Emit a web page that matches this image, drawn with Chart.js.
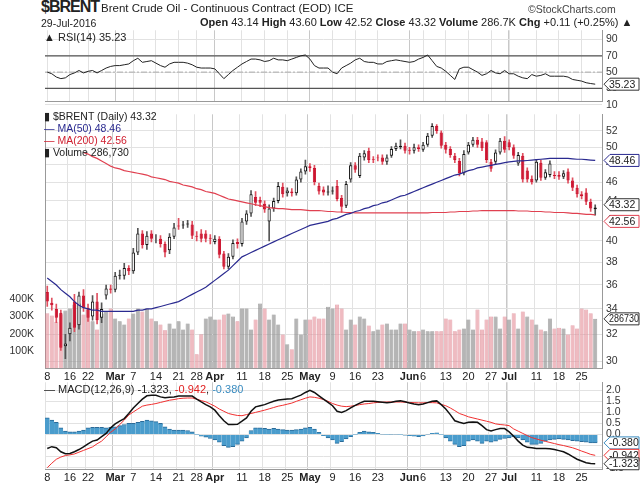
<!DOCTYPE html>
<html>
<head>
<meta charset="utf-8">
<script src="https://cdn.jsdelivr.net/npm/chart.js@4.4.0/dist/chart.umd.min.js"></script>
<style>
  body { margin: 0; background: #fff; font-family: "Liberation Sans", Arial, sans-serif; }
  #wrap { position: relative; width: 640px; height: 485px; overflow: hidden; }
  canvas { position: absolute; left: 0; }
  .t { position: absolute; white-space: nowrap; font-size: 11px; color: #222; }
  .b { font-weight: bold; }
</style>
</head>
<body>
<div id="wrap">
  <canvas id="rsi" width="640" height="92" style="top:20px"></canvas>
  <canvas id="price" width="640" height="280" style="top:104px"></canvas>
  <canvas id="macd" width="640" height="113" style="top:372px"></canvas>

  <div class="t" style="left:41px;top:-2px;font-size:16px;font-weight:bold;letter-spacing:-1px">$BRENT</div>
  <div class="t" style="left:101px;top:2px;font-size:11.5px">Brent Crude Oil - Continuous Contract (EOD) ICE</div>
  <div class="t" style="left:528px;top:3px;font-size:10.5px;color:#444">&copy;StockCharts.com</div>
  <div class="t" style="left:41px;top:17px;font-size:10.5px">29-Jul-2016</div>
  <div class="t" style="left:200px;top:16px;font-size:11px"><span class="b">Open</span> 43.14 <span class="b">High</span> 43.60 <span class="b">Low</span> 42.52 <span class="b">Close</span> 43.32 <span class="b">Volume</span> 286.7K <span class="b">Chg</span> +0.11 (+0.25%) &#9650;</div>

  <div class="t" style="left:44px;top:31px;font-size:11px">&#9650; RSI(14) 35.23</div>
  <div class="t" style="left:44px;top:110px;font-size:10.5px">&#9646; $BRENT (Daily) 43.32</div>
  <div class="t" style="left:44px;top:122px;font-size:10.5px;color:#2a2a90">&mdash; MA(50) 48.46</div>
  <div class="t" style="left:44px;top:134px;font-size:10.5px;color:#d02030">&mdash; MA(200) 42.56</div>
  <div class="t" style="left:44px;top:146px;font-size:10.5px">&#9646; Volume 286,730</div>
  <div class="t" style="left:44px;top:383px;font-size:11px">&mdash; MACD(12,26,9) -1.323, <span style="color:#e02020">-0.942</span>, <span style="color:#3a8cc0">-0.380</span></div>
</div>
<script>
// 거래일 (카테고리)
const holidays = ['2016-02-15', '2016-03-25'];
const days = [];
for (let d = new Date(Date.UTC(2016, 1, 8)); d <= new Date(Date.UTC(2016, 6, 29)); d.setUTCDate(d.getUTCDate() + 1)) {
  const key = d.toISOString().slice(0, 10);
  const wd = d.getUTCDay();
  if (wd !== 0 && wd !== 6 && !holidays.includes(key)) days.push(key);
}

// x축 눈금
const tickDates = ['2016-02-08','2016-02-16','2016-02-22','2016-03-01','2016-03-07','2016-03-14','2016-03-21','2016-03-28',
  '2016-04-01','2016-04-11','2016-04-18','2016-04-25','2016-05-02','2016-05-09','2016-05-16','2016-05-23',
  '2016-06-01','2016-06-06','2016-06-13','2016-06-20','2016-06-27','2016-07-01','2016-07-11','2016-07-18','2016-07-25'];
const monthNames = ['Jan','Feb','Mar','Apr','May','Jun','Jul','Aug'];

// 시가 / 종가 / 고가 / 저가
const opens = [35.4,34.5,34.0,33.7,31.1,32.0,34.6,32.7,35.1,34.1, 33.4,34.6,33.3,35.1,35.7,35.6,36.8,36.8,37.5,37.2,
  38.9,40.7,39.6,40.7,40.2,40.2,39.7,39.1,40.4,41.5, 41.5,41.6,41.6,40.5,40.7,40.7,40.3,39.9,40.2,38.8,
  37.6,38.5,39.9,39.7,41.9,42.7,44.4,44.1,43.7,41.9, 43.2,44.0,45.5,44.8,45.0,44.8,46.3,47.2,47.8,47.6,
  45.6,45.2,44.9,45.0,45.6,44.3,43.5,46.3,47.9,46.7, 48.8,49.6,48.6,48.8,48.8,48.3,49.0,49.8,50.0,50.2,
  49.7,49.6,50.0,49.7,50.3,51.4,52.6,51.8,50.3,49.8, 49.0,48.4,47.0,49.4,50.3,50.9,50.7,50.6,48.3,48.3,
  49.4,50.8,50.6,50.0,48.1,49.0,47.3,46.4,46.2,48.2, 46.5,46.8,46.8,46.8,46.6,47.2,46.2,45.4,44.7,44.9, 43.9,43.14];
const closes = [34.6,34.3,33.3,31.0,31.3,32.5,32.5,35.1,34.1,33.3, 34.6,33.1,34.0,35.7,35.6,36.8,36.9,37.5,37.2,38.9,
  40.7,39.6,40.5,40.2,40.2,39.7,38.9,40.4,41.3,41.4, 41.6,41.7,40.5,40.4,40.2,40.2,40.2,40.2,38.7,37.6,
  38.5,39.8,39.7,41.9,42.7,44.7,43.8,43.8,43.1,43.2, 44.0,45.6,44.7,45.1,44.8,46.3,47.2,47.8,47.6,46.0,
  45.0,44.9,45.0,45.1,44.2,43.4,45.8,47.9,47.4,49.0, 49.3,48.5,48.5,48.7,48.3,48.8,49.8,50.2,50.2,49.6,
  49.6,50.0,49.8,50.3,51.4,52.6,52.0,50.2,49.7,49.1, 48.5,47.0,49.2,50.3,50.9,50.3,49.9,48.5,47.5,49.4,
  50.8,49.7,50.0,49.0,49.1,46.3,46.3,46.0,48.3,46.5, 47.1,48.1,46.7,46.6,47.0,46.2,45.4,44.7,44.5,43.9, 43.2,43.32];
const highs = [35.9,34.9,34.4,33.9,32.0,32.9,35.2,35.4,35.6,34.4, 35.1,35.3,34.5,36.0,36.0,37.1,37.3,37.9,37.7,39.3,
  41.2,41.0,40.9,41.0,40.6,40.5,39.9,40.7,41.7,42.2, 41.9,42.0,41.9,40.9,41.1,41.0,40.6,40.5,40.4,39.0,
  38.8,40.1,40.2,42.2,43.0,45.1,45.0,44.4,44.0,43.6, 44.3,46.0,45.9,45.4,45.3,46.6,47.5,48.5,48.1,47.9,
  45.9,45.5,45.6,45.5,46.2,44.6,46.1,48.2,48.2,49.3, 49.6,49.9,48.9,49.1,49.1,49.1,50.1,50.5,50.9,50.5,
  50.0,50.4,50.3,50.6,51.7,52.9,52.8,52.0,50.6,50.1, 49.3,48.7,49.6,50.6,51.2,51.2,51.1,50.8,48.6,49.7,
  51.1,51.3,50.9,50.3,49.4,49.3,47.6,46.7,48.6,48.5, 47.4,48.4,47.2,47.2,47.3,47.5,46.5,45.7,45.0,45.3, 44.2,43.6];
const lows = [34.2,33.9,32.9,30.8,30.2,31.5,32.2,32.4,33.8,33.0, 33.1,32.8,32.9,34.8,35.3,35.4,36.5,36.5,36.9,37.0,
  38.7,39.3,39.2,39.9,39.8,39.4,38.5,38.8,40.2,41.1, 41.2,41.3,40.2,40.0,39.9,39.9,39.7,39.7,38.4,37.4,
  37.4,38.3,39.3,39.5,41.6,42.4,43.5,43.4,42.8,40.0, 42.9,43.8,44.4,44.5,44.5,44.6,46.0,46.9,47.2,45.7,
  44.7,44.6,44.6,44.7,44.0,42.8,43.3,46.0,47.1,46.5, 48.5,48.2,48.2,48.4,48.0,48.0,48.8,49.6,49.8,49.3,
  49.2,49.3,49.5,49.5,50.1,51.2,51.7,49.9,49.3,48.8, 48.2,46.7,46.8,49.2,50.1,50.0,49.6,48.2,47.2,48.0,
  49.2,49.4,49.7,48.7,47.9,46.0,46.0,45.8,46.0,46.2, 46.3,46.6,46.4,46.3,46.4,45.9,45.1,44.4,44.2,43.6, 42.9,42.52];

// 거래량 (천 단위)
const volumeK = [320,306,270,314,335,347,370,376,312,340, 272,225,318,330,347,289,272,254,289,318,
  347,330,347,289,272,254,220,260,231,272, 225,260,225,80,197,289,300,283,283,312,
  318,300,272,347,347,225,283,376,347,283, 312,254,196,139,110,289,196,283,283,300,
  289,289,358,347,370,347,225,283,254,300, 289,248,214,225,254,260,225,225,260,260,
  225,214,214,225,214,214,214,214,289,283, 214,225,231,283,225,341,225,283,300,300,
  231,300,283,320,231,330,300,283,254,225, 214,289,231,235,231,196,250,231,347,341, 320,286.73];

// 이동평균
const ma50 = [36.6,36.3,36.0,35.6,35.3,35.0,34.6,34.3,34.1,34.0, 33.9,33.9,33.8,33.8,33.8,33.8,33.8,33.8,33.8,33.8,
  33.9,33.9,34.0,34.0,34.1,34.2,34.3,34.4,34.5,34.6, 34.8,35.0,35.2,35.4,35.6,35.8,36.1,36.4,36.7,37.0,
  37.3,37.7,38.1,38.5,38.7,38.9,39.1,39.3,39.5,39.7, 39.9,40.1,40.3,40.5,40.7,40.9,41.1,41.3,41.5,41.6,
  41.7,41.8,41.9,42.1,42.2,42.4,42.6,42.7,42.9,43.0, 43.2,43.3,43.5,43.6,43.8,43.9,44.1,44.3,44.5,44.6,
  44.8,45.0,45.2,45.4,45.6,45.8,46.0,46.2,46.4,46.6, 46.8,46.9,47.1,47.3,47.4,47.6,47.7,47.8,47.9,48.0,
  48.1,48.2,48.3,48.35,48.4,48.4,48.45,48.5,48.55,48.6, 48.65,48.7,48.7,48.7,48.7,48.7,48.65,48.6,48.6,48.55, 48.5,48.46];
const ma200 = [null,null,null,null,null,null,null,null,49.4,49.2, 48.9,48.7,48.4,48.1,47.8,47.6,47.5,47.3,47.2,47.1,
  47.0,46.9,46.8,46.6,46.5,46.4,46.3,46.1,46.0,45.9, 45.7,45.6,45.5,45.3,45.2,45.0,44.9,44.8,44.6,44.4,
  44.2,44.1,44.0,43.9,43.8,43.7,43.6,43.5,43.4,43.3, 43.25,43.2,43.2,43.15,43.1,43.1,43.1,43.05,43.0,43.0,
  43.0,42.95,42.9,42.9,42.85,42.85,42.8,42.8,42.75,42.75, 42.75,42.75,42.75,42.75,42.75,42.75,42.75,42.75,42.75,42.75,
  42.75,42.75,42.75,42.75,42.75,42.8,42.8,42.8,42.8,42.85, 42.85,42.9,42.9,42.9,42.95,42.95,43.0,43.0,43.0,43.0,
  43.0,43.0,43.0,43.0,42.95,42.95,42.95,42.9,42.9,42.9, 42.85,42.85,42.8,42.8,42.8,42.75,42.7,42.7,42.65,42.6, 42.6,42.56];

// RSI(14)
const rsi = [50,48,44,42,43,47,49,52,49,51, 52,49,52,55,57,58,58,59,60,64,
  67,62,63,64,61,58,56,60,62,62, 62,61,59,56,55,55,55,54,48,42,
  47,52,56,60,63,66,66,65,63,64, 67,65,65,64,66,68,70,71,66,58,
  55,55,55,50,48,55,58,61,65,67, 63,62,62,60,60,63,64,65,64,63,
  62,63,66,68,71,64,57,55,51,46, 41,54,56,56,53,50,46,48,52,49,
  48,52,48,48,45,43,42,47,45,46, 48,45,45,45,45,44,41,40,39,37, 36,35.23];

// MACD(12,26,9)
const macdLine = [-0.63,-0.55,-0.6,-0.78,-0.87,-0.86,-0.78,-0.68,-0.56,-0.42, -0.3,-0.25,-0.1,0.05,0.3,0.48,0.6,0.72,0.95,1.2,
  1.4,1.6,1.75,1.77,1.77,1.7,1.66,1.68,1.7,1.74, 1.74,1.74,1.74,1.6,1.47,1.35,1.25,1.1,0.85,0.62,
  0.45,0.45,0.46,0.6,0.75,1.05,1.25,1.3,1.35,1.43, 1.5,1.56,1.58,1.6,1.62,1.7,1.78,1.9,2.0,1.9,
  1.75,1.6,1.45,1.3,1.05,1.0,1.08,1.2,1.32,1.42, 1.5,1.5,1.5,1.48,1.46,1.44,1.46,1.5,1.52,1.48,
  1.42,1.38,1.35,1.38,1.44,1.5,1.52,1.35,1.15,0.9, 0.62,0.55,0.5,0.55,0.57,0.55,0.4,0.22,0.16,0.22,
  0.27,0.27,0.12,-0.08,-0.3,-0.48,-0.58,-0.6,-0.63,-0.63, -0.63,-0.64,-0.68,-0.73,-0.78,-0.88,-1.0,-1.12,-1.2,-1.28, -1.31,-1.323];
const signalLine = [-1.5,-1.3,-1.12,-1.02,-0.95,-0.92,-0.88,-0.8,-0.72,-0.64, -0.56,-0.42,-0.3,-0.1,0.1,0.25,0.45,0.65,0.88,1.02,
  1.15,1.28,1.33,1.36,1.4,1.45,1.5,1.55,1.58,1.62, 1.64,1.65,1.65,1.6,1.53,1.48,1.38,1.28,1.15,1.05,
  0.95,0.9,0.86,0.85,0.9,0.95,1.0,1.05,1.1,1.16, 1.22,1.28,1.32,1.37,1.42,1.5,1.57,1.64,1.7,1.68,
  1.64,1.58,1.5,1.4,1.33,1.28,1.26,1.28,1.31,1.35, 1.38,1.4,1.43,1.45,1.46,1.47,1.47,1.47,1.47,1.46,
  1.45,1.44,1.43,1.43,1.44,1.44,1.43,1.36,1.3,1.2, 1.08,0.95,0.88,0.8,0.75,0.7,0.65,0.6,0.55,0.48,
  0.45,0.43,0.4,0.25,0.15,0.05,-0.05,-0.14,-0.2,-0.26, -0.31,-0.36,-0.41,-0.46,-0.5,-0.55,-0.6,-0.67,-0.75,-0.82, -0.9,-0.942];
const histogram = [0.75,0.65,0.55,0.3,0.15,0.12,0.12,0.15,0.2,0.3, 0.32,0.32,0.32,0.3,0.32,0.35,0.4,0.45,0.5,0.5,
  0.55,0.6,0.65,0.62,0.58,0.5,0.35,0.25,0.2,0.2, 0.2,0.18,0.12,0.0,-0.08,-0.12,-0.18,-0.25,-0.35,-0.5,
  -0.58,-0.55,-0.45,-0.3,-0.15,0.18,0.3,0.3,0.28,0.25, 0.28,0.25,0.22,0.2,0.2,0.22,0.25,0.3,0.32,0.25,
  0.1,-0.05,-0.15,-0.25,-0.4,-0.32,-0.2,-0.1,0.0,0.1, 0.15,0.12,0.1,0.05,0.02,0.0,0.01,0.02,0.0,-0.03,
  -0.05,-0.08,-0.1,-0.06,-0.02,0.05,0.08,0.0,-0.15,-0.3, -0.45,-0.55,-0.5,-0.3,-0.25,-0.3,-0.4,-0.3,-0.35,-0.3,
  -0.22,-0.18,-0.15,-0.1,-0.15,-0.25,-0.35,-0.45,-0.45,-0.4, -0.3,-0.25,-0.22,-0.2,-0.22,-0.25,-0.28,-0.3,-0.32,-0.35, -0.38,-0.38];

// 축 눈금 값
const priceTicks = [30, 32, 34, 36, 38, 40, 42, 44, 46, 48, 50, 52];
const volumeTicks = [100000, 200000, 300000, 400000];
const rsiTicks = [10, 30, 50, 70, 90];
const macdTicks = [-1.5, -1.0, -0.5, 0.0, 0.5, 1.0, 1.5, 2.0];

const FONT = '"Liberation Sans", Arial, sans-serif';
const RED = '#cc1530';
const LEFT_W = 45, RIGHT_W = 38;

const isTick = i => tickDates.includes(days[i]);
const tickLabel = i => {
  const k = days[i];
  const first = days.findIndex(d => d.slice(0, 7) === k.slice(0, 7));
  return (first === i && i > 0) ? monthNames[+k.slice(5, 7) - 1] : String(+k.slice(8, 10));
};
const isMonth = i => isTick(i) && isNaN(+tickLabel(i));

function xScale(showLabels) {
  return {
    type: 'category', offset: true,
    grid: {
      drawTicks: false,
      color: c => isTick(c.index) ? (isMonth(c.index) ? '#c8c8c8' : '#e2e2e2') : 'rgba(0,0,0,0)',
      lineWidth: c => (days[c.index] === '2016-07-01' ? 1.5 : 1)
    },
    border: { color: '#999' },
    ticks: {
      display: showLabels, autoSkip: false, maxRotation: 0, padding: 2, color: '#222',
      callback: (v, i) => isTick(i) ? tickLabel(i) : '',
      font: c => ({ family: FONT, size: 11, weight: isMonth(c.index) ? 'bold' : 'normal' })
    },
    afterFit: s => { s.height = showLabels ? 16 : 0; }
  };
}

function rightScale(extra) {
  return Object.assign({
    position: 'right',
    grid: { color: '#e2e2e2', drawTicks: false },
    border: { color: '#999' },
    ticks: { color: '#333', padding: 4, autoSkip: false, font: { family: FONT, size: 10.5 } },
    afterFit: s => { s.width = RIGHT_W; }
  }, extra);
}

// 오른쪽 값 태그
const tagPlugin = {
  id: 'tags',
  afterDraw(chart, args, opts) {
    const ctx = chart.ctx;
    const x = chart.chartArea.right + 2;
    (opts.items || []).forEach(t => {
      const y = chart.scales[t.scale].getPixelForValue(t.value);
      ctx.save();
      ctx.font = '10.5px ' + FONT;
      const w = Math.min(ctx.measureText(t.text).width + 9, 640 - x - 1);
      ctx.beginPath();
      ctx.moveTo(x, y); ctx.lineTo(x + 6, y - 6); ctx.lineTo(x + w, y - 6);
      ctx.lineTo(x + w, y + 6); ctx.lineTo(x + 6, y + 6); ctx.closePath();
      ctx.fillStyle = '#fff'; ctx.fill();
      ctx.strokeStyle = t.color; ctx.lineWidth = 1; ctx.stroke();
      ctx.fillStyle = '#222';
      ctx.textBaseline = 'middle';
      ctx.fillText(t.text, x + 5, y + 0.5, w - 5);
      ctx.restore();
    });
  }
};

// 수평 기준선
const hlinePlugin = {
  id: 'hlines',
  beforeDatasetsDraw(chart, args, opts) {
    const ctx = chart.ctx, a = chart.chartArea;
    (opts.lines || []).forEach(l => {
      const y = chart.scales[l.scale].getPixelForValue(l.value);
      ctx.save();
      ctx.strokeStyle = l.color; ctx.lineWidth = l.width || 1;
      ctx.setLineDash(l.dash || []);
      ctx.beginPath(); ctx.moveTo(a.left, y); ctx.lineTo(a.right, y); ctx.stroke();
      ctx.restore();
    });
  }
};

const base = {
  responsive: false, animation: false, events: [],
  plugins: { legend: { display: false }, tooltip: { enabled: false } }
};

// RSI 패널
new Chart(document.getElementById('rsi'), {
  type: 'line',
  data: {
    labels: days,
    datasets: [{ data: rsi, borderColor: '#222', borderWidth: 1, pointRadius: 0, tension: 0 }]
  },
  options: Object.assign({}, base, {
    layout: { padding: { left: LEFT_W, top: 1 } },
    scales: {
      x: xScale(false),
      y: rightScale({
        min: 13.75, max: 101.25,
        afterBuildTicks: s => { s.ticks = rsiTicks.map(v => ({ value: v })); }
      })
    },
    plugins: Object.assign({}, base.plugins, {
      hlines: { lines: [
        { scale: 'y', value: 70, color: '#555', width: 1.2 },
        { scale: 'y', value: 30, color: '#555', width: 1.2 },
        { scale: 'y', value: 50, color: '#aaa', width: 1, dash: [6, 2, 2, 2] }
      ] },
      tags: { items: [{ scale: 'y', value: 35.23, text: '35.23', color: '#333' }] }
    })
  }),
  plugins: [tagPlugin, hlinePlugin]
});

// 가격 패널
const upDay = closes.map((c, i) => c >= opens[i]);
const volUp = closes.map((c, i) => i === 0 ? c >= opens[0] : c >= closes[i - 1]);

new Chart(document.getElementById('price'), {
  type: 'bar',
  data: {
    labels: days,
    datasets: [
      { type: 'line', data: ma50, yAxisID: 'y', borderColor: '#2a2a90', borderWidth: 1.2, pointRadius: 0, order: 1 },
      { type: 'line', data: ma200, yAxisID: 'y', borderColor: '#e04050', borderWidth: 1.2, pointRadius: 0, order: 1 },
      { data: opens.map((o, i) => [o, closes[i]]), yAxisID: 'y', grouped: false, order: 2,
        barPercentage: 0.72, categoryPercentage: 1,
        backgroundColor: upDay.map(u => u ? '#ffffff' : RED),
        borderColor: upDay.map(u => u ? '#111' : RED), borderWidth: 1, borderSkipped: false },
      { data: lows.map((l, i) => [l, highs[i]]), yAxisID: 'y', grouped: false, order: 3,
        barThickness: 1, backgroundColor: upDay.map(u => u ? '#555' : '#e05060') },
      { data: volumeK.map(v => v * 1000), yAxisID: 'vol', grouped: false, order: 5,
        barPercentage: 0.9, categoryPercentage: 1,
        backgroundColor: volUp.map(u => u ? 'rgba(150,150,150,0.7)' : 'rgba(230,150,160,0.65)'),
        borderColor: volUp.map(u => u ? 'rgba(120,120,120,0.8)' : 'rgba(215,120,135,0.8)'), borderWidth: 0.6 }
    ]
  },
  options: Object.assign({}, base, {
    layout: { padding: { top: 1 } },
    scales: {
      x: xScale(true),
      y: rightScale({
        type: 'logarithmic', min: 29.53, max: 54.1,
        afterBuildTicks: s => { s.ticks = priceTicks.map(v => ({ value: v })); },
        ticks: { color: '#333', padding: 4, autoSkip: false, font: { family: FONT, size: 10.5 }, callback: v => String(v) }
      }),
      vol: {
        position: 'left', min: 0, max: 1480000,
        grid: { display: false },
        border: { color: '#999' },
        afterBuildTicks: s => { s.ticks = volumeTicks.map(v => ({ value: v })); },
        ticks: { color: '#333', padding: 3, autoSkip: false, font: { family: FONT, size: 10.5 }, callback: v => (v / 1000) + 'K' },
        afterFit: s => { s.width = LEFT_W; }
      }
    },
    plugins: Object.assign({}, base.plugins, {
      tags: { items: [
        { scale: 'y', value: 48.46, text: '48.46', color: '#2a2a90' },
        { scale: 'y', value: 43.6, text: '43.32', color: '#333' },
        { scale: 'y', value: 41.9, text: '42.56', color: '#e04050' },
        { scale: 'vol', value: 286730, text: '286730', color: '#333' }
      ] }
    })
  }),
  plugins: [tagPlugin]
});

// MACD 패널
new Chart(document.getElementById('macd'), {
  type: 'bar',
  data: {
    labels: days,
    datasets: [
      { type: 'line', data: macdLine, borderColor: '#111', borderWidth: 1.5, pointRadius: 0, order: 1 },
      { type: 'line', data: signalLine, borderColor: '#f03030', borderWidth: 1, pointRadius: 0, order: 1 },
      { data: histogram, order: 3, barPercentage: 1, categoryPercentage: 1,
        backgroundColor: '#4a9ccc', borderColor: '#2a6a98', borderWidth: { top: 1, bottom: 1, left: 0, right: 0 } }
    ]
  },
  options: Object.assign({}, base, {
    layout: { padding: { left: LEFT_W, top: 1 } },
    scales: {
      x: xScale(true),
      y: rightScale({
        min: -1.56, max: 2.36,
        afterBuildTicks: s => { s.ticks = macdTicks.map(v => ({ value: v })); },
        ticks: { color: '#333', padding: 4, autoSkip: false, font: { family: FONT, size: 10.5 }, callback: v => v.toFixed(1) }
      })
    },
    plugins: Object.assign({}, base.plugins, {
      tags: { items: [
        { scale: 'y', value: -0.38, text: '-0.380', color: '#3a8cc0' },
        { scale: 'y', value: -0.942, text: '-0.942', color: '#f03030' },
        { scale: 'y', value: -1.323, text: '-1.323', color: '#333' }
      ] }
    })
  }),
  plugins: [tagPlugin]
});
</script>
</body>
</html>
